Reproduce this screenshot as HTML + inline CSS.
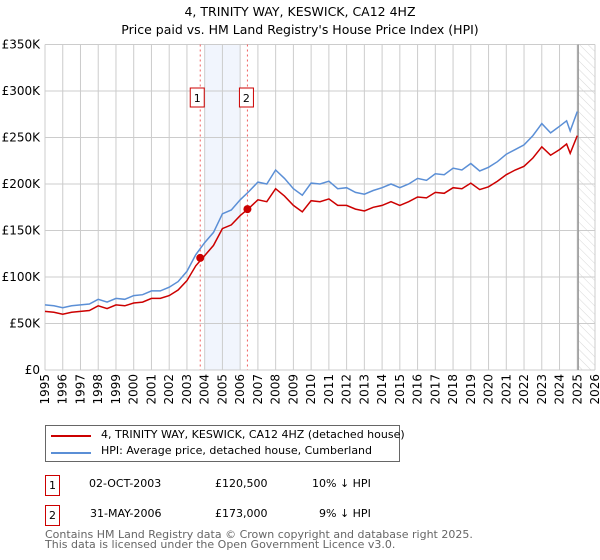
<!DOCTYPE html>
<html><head><meta charset="utf-8"><style>
body{margin:0;background:#fff;font-family:"DejaVu Sans","Liberation Sans",sans-serif;}
#wrap{position:relative;width:600px;height:560px;overflow:hidden}
.t{position:absolute;white-space:nowrap;font-size:12px;color:#000}
</style></head><body><div id="wrap">
<div class="t" style="left:0;width:600px;text-align:center;top:4px;font-size:12.5px">4, TRINITY WAY, KESWICK, CA12 4HZ</div>
<div class="t" style="left:0;width:600px;text-align:center;top:22px;font-size:12.5px">Price paid vs. HM Land Registry's House Price Index (HPI)</div>
<svg id="chart" width="600" height="420" style="position:absolute;left:0;top:0" font-family="DejaVu Sans, Liberation Sans, sans-serif" font-size="12"></svg>
<div style="position:absolute;left:45px;top:425px;width:353px;height:35px;border:1px solid #666">
<div style="position:absolute;left:5px;top:9px;width:40px;height:2px;background:#cc0000"></div>
<div class="t" style="left:55px;top:2px;font-size:11px">4, TRINITY WAY, KESWICK, CA12 4HZ (detached house)</div>
<div style="position:absolute;left:5px;top:26px;width:40px;height:2px;background:#5b8fd6"></div>
<div class="t" style="left:55px;top:18px;font-size:11px">HPI: Average price, detached house, Cumberland</div>
</div>
<div style="position:absolute;left:45px;top:475px;width:13px;height:19px;border:1px solid #cc0000;font-size:11px;text-align:center;line-height:19px">1</div>
<div class="t" style="left:89px;top:477px;font-size:11px">02-OCT-2003</div>
<div class="t" style="left:215px;top:477px;font-size:11px">£120,500</div>
<div class="t" style="left:312px;top:477px;font-size:11px">10% ↓ HPI</div>
<div style="position:absolute;left:45px;top:505px;width:13px;height:19px;border:1px solid #cc0000;font-size:11px;text-align:center;line-height:19px">2</div>
<div class="t" style="left:90px;top:507px;font-size:11px">31-MAY-2006</div>
<div class="t" style="left:215px;top:507px;font-size:11px">£173,000</div>
<div class="t" style="left:319px;top:507px;font-size:11px">9% ↓ HPI</div>
<div class="t" style="left:45px;top:530px;font-size:11px;color:#666;line-height:10px">Contains HM Land Registry data © Crown copyright and database right 2025.<br>This data is licensed under the Open Government Licence v3.0.</div>
</div>
<script>
const years=[1995,1995.5,1996,1996.5,1997,1997.5,1998,1998.5,1999,1999.5,2000,2000.5,2001,2001.5,2002,2002.5,2003,2003.5,2004,2004.5,2005,2005.5,2006,2006.5,2007,2007.5,2008,2008.5,2009,2009.5,2010,2010.5,2011,2011.5,2012,2012.5,2013,2013.5,2014,2014.5,2015,2015.5,2016,2016.5,2017,2017.5,2018,2018.5,2019,2019.5,2020,2020.5,2021,2021.5,2022,2022.5,2023,2023.5,2024,2024.4,2024.6,2025.0];
const hpiValues=[70,69,67,69,70,71,76,73,77,76,80,81,85,85,89,95,106,124,137,148,168,172,183,192,202,200,215,206,195,188,201,200,203,195,196,191,189,193,196,200,196,200,206,204,211,210,217,215,222,214,218,224,232,237,242,252,265,255,262,268,257,278];
const priceValues=[63,62,60,62,63,64,69,66,70,69,72,73,77,77,80,86,96,112,123,134,152,156,166,174,183,181,195,187,177,170,182,181,184,177,177,173,171,175,177,181,177,181,186,185,191,190,196,195,201,194,197,203,210,215,219,228,240,231,237,243,233,252];
const saleYears=[2003.75,2006.41];
const salePrices=[120.5,173];
const yTicks=[0,50,100,150,200,250,300,350];
const yTickLabels=["£0","£50K","£100K","£150K","£200K","£250K","£300K","£350K"];
const xTicks=[1995,1996,1997,1998,1999,2000,2001,2002,2003,2004,2005,2006,2007,2008,2009,2010,2011,2012,2013,2014,2015,2016,2017,2018,2019,2020,2021,2022,2023,2024,2025,2026];
const L=45,R=595,T=44.5,B=370;
const X=v=>L+(v-1995)/(2026-1995)*(R-L);
const Y=v=>B-v/350*(B-T);
const svg=document.getElementById('chart');const NS='http://www.w3.org/2000/svg';
function mk(tag,at,parent){const e=document.createElementNS(NS,tag);for(const k in at)e.setAttribute(k,at[k]);(parent||svg).appendChild(e);return e;}
let e;
e=mk('rect',{x:X(2004),y:T,width:X(2006)-X(2004),height:B-T,fill:'#eef3fc',opacity:0.8});


const defs=mk('defs',{});const pat=mk('pattern',{id:'hatch',width:6,height:6,patternUnits:'userSpaceOnUse',patternTransform:'rotate(-45)'},defs);
mk('line',{x1:0,y1:0,x2:0,y2:6,stroke:'#d8d8d8','stroke-width':1},pat);
e=mk('rect',{x:X(2025.05),y:T,width:R-X(2025.05),height:B-T,fill:'url(#hatch)'});


yTicks.forEach((v,i)=>{
 e=mk('line',{x1:L,x2:R,y1:Y(v),y2:Y(v),stroke:'#ccc'});
 
 
 e=mk('text',{x:L-5,y:Y(v)+4,'text-anchor':'end',fill:'#000'});e.textContent=yTickLabels[i];
 
 
});
xTicks.forEach(v=>{
 e=mk('line',{x1:X(v),x2:X(v),y1:T,y2:B,stroke:'#ccc'});
 
 
 e=mk('text',{x:0,y:0,'text-anchor':'end',transform:`translate(${X(v)+4},${B+4}) rotate(-90)`});e.textContent=v;
 
 
});
e=mk('line',{x1:X(2025.05),x2:X(2025.05),y1:T,y2:B,stroke:'#999','stroke-width':1.5});


saleYears.forEach((v,i)=>{
 e=mk('line',{x1:X(v),x2:X(v),y1:T,y2:B,stroke:'#f06060','stroke-dasharray':'2,3'});
 
 
 e=mk('rect',{x:X(v)-10-(i?-2:0),y:88,width:14,height:19,fill:'#fff',stroke:'#cc0000'});
 
 
 e=mk('text',{x:X(v)-3-(i?-2:0),y:102,'text-anchor':'middle','font-size':11});e.textContent=String(i+1);
 
 
});
function path(vals,color,name){
 const d=vals.map((v,i)=>(i?'L':'M')+X(years[i]).toFixed(1)+','+Y(v).toFixed(1)).join('');
 const p=mk('path',{d:d,fill:'none',stroke:color,'stroke-width':1.5});
 
 
}
path(hpiValues,'#5b8fd6','hpi-line');
path(priceValues,'#cc0000','price-line');
saleYears.forEach((v,i)=>{
 e=mk('circle',{cx:X(v),cy:Y(salePrices[i]),r:4,fill:'#cc0000'});
 
 
});
</script></body></html>
